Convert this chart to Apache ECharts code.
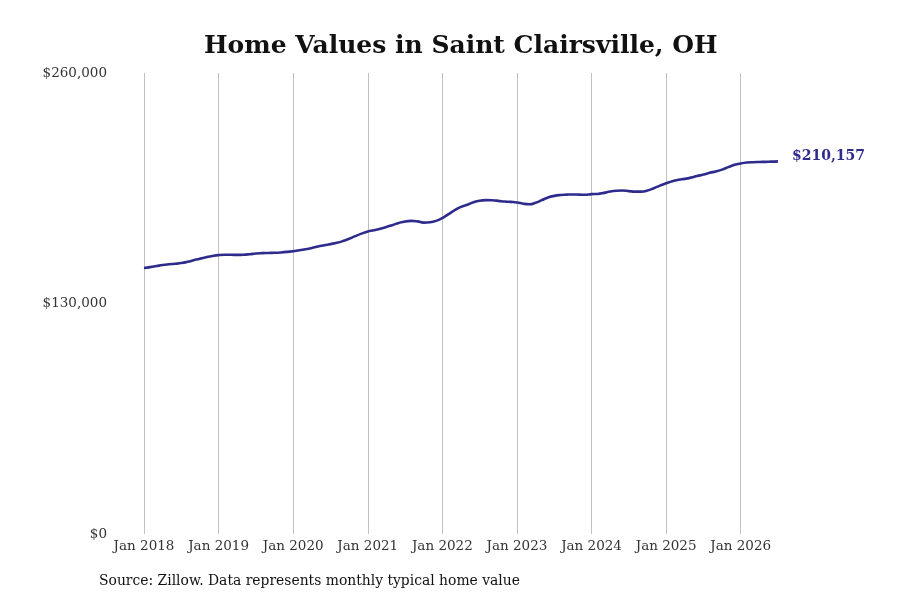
<!DOCTYPE html>
<html>
<head>
<meta charset="utf-8">
<title>Home Values in Saint Clairsville, OH</title>
<script src="https://cdn.jsdelivr.net/npm/echarts@6/dist/echarts.min.js"></script>
<style>
  html, body { margin: 0; padding: 0; background: #fff; }
  #chart { width: 900px; height: 600px; }
</style>
</head>
<body>
<div id="chart"></div>
<script>
// monthly typical home value, Jan 2018 .. Jul 2026
const years = [2018, 2019, 2020, 2021, 2022, 2023, 2024, 2025, 2026];
const monthNames = ['Jan', 'Feb', 'Mar', 'Apr', 'May', 'Jun', 'Jul', 'Aug', 'Sep', 'Oct', 'Nov', 'Dec'];

const values2018 = [150000, 150500, 151100, 151700, 152100, 152400, 152800, 153500, 154400, 155300, 156100, 156800];
const values2019 = [157300, 157500, 157500, 157400, 157500, 157800, 158200, 158400, 158500, 158600, 158800, 159100];
const values2020 = [159500, 160000, 160600, 161300, 162100, 162800, 163500, 164200, 165200, 166500, 168000, 169400];
const values2021 = [170600, 171300, 172200, 173200, 174300, 175400, 176300, 176600, 176300, 175600, 175800, 176600];
const values2022 = [178200, 180400, 182700, 184500, 185700, 187100, 188000, 188300, 188200, 187900, 187500, 187300];
const values2023 = [187000, 186300, 186000, 186800, 188300, 189800, 190700, 191200, 191400, 191500, 191400, 191300];
const values2024 = [191700, 191800, 192400, 193200, 193600, 193700, 193400, 193100, 193100, 193700, 195000, 196500];
const values2025 = [197800, 199000, 199800, 200300, 201000, 201900, 202700, 203700, 204500, 205500, 206900, 208200];
const values2026 = [209000, 209500, 209700, 209800, 209900, 210000, 210157];

const yTicks = [0, 130000, 260000];

const values = [].concat(values2018, values2019, values2020, values2021, values2022,
                         values2023, values2024, values2025, values2026);
const months = [];
years.forEach(y => monthNames.forEach(m => months.push(m + ' ' + y)));
months.length = values.length;

const fmt = v => '$' + v.toLocaleString('en-US');
const lineColor = '#2e2b8c';
const font = '"DejaVu Serif", serif';

const chart = echarts.init(document.getElementById('chart'));
const option = {
    animation: false,
    title: {
        text: 'Home Values in Saint Clairsville, OH',
        left: 199,
        top: 29,
        textStyle: { fontFamily: font, fontSize: 25, fontWeight: 'bold', color: '#111' }
    },
    grid: { left: 144, right: 122, top: 73, bottom: 66 },
    xAxis: {
        type: 'category',
        data: months,
        boundaryGap: false,
        axisLine: { show: false },
        axisTick: { show: false },
        axisLabel: {
            interval: (i) => i % 12 === 0,
            fontFamily: font, fontSize: 13.5, color: '#333', margin: 5
        },
        splitLine: {
            show: true,
            interval: (i) => i % 12 === 0,
            lineStyle: { color: '#c0c0c0', width: 1 }
        }
    },
    yAxis: {
        type: 'value',
        min: yTicks[0],
        max: yTicks[yTicks.length - 1],
        interval: yTicks[1] - yTicks[0],
        axisLine: { show: false },
        axisTick: { show: false },
        splitLine: { show: false },
        axisLabel: {
            formatter: fmt,
            fontFamily: font, fontSize: 13.5, color: '#333', margin: 37
        }
    },
    series: [{
        type: 'line',
        data: values,
        smooth: true,
        showSymbol: false,
        lineStyle: { color: lineColor, width: 2.6 },
        endLabel: {
            show: true,
            formatter: (p) => fmt(p.value),
            fontFamily: font, fontSize: 14, fontWeight: 'bold', color: lineColor,
            distance: 14,
            offset: [0, -5]
        }
    }],
    graphic: [{
        type: 'text',
        left: 99,
        top: 574,
        style: {
            text: 'Source: Zillow. Data represents monthly typical home value',
            font: '13.9px "DejaVu Serif", serif',
            fill: '#111'
        }
    }]
};
chart.setOption(option);
</script>
</body>
</html>
